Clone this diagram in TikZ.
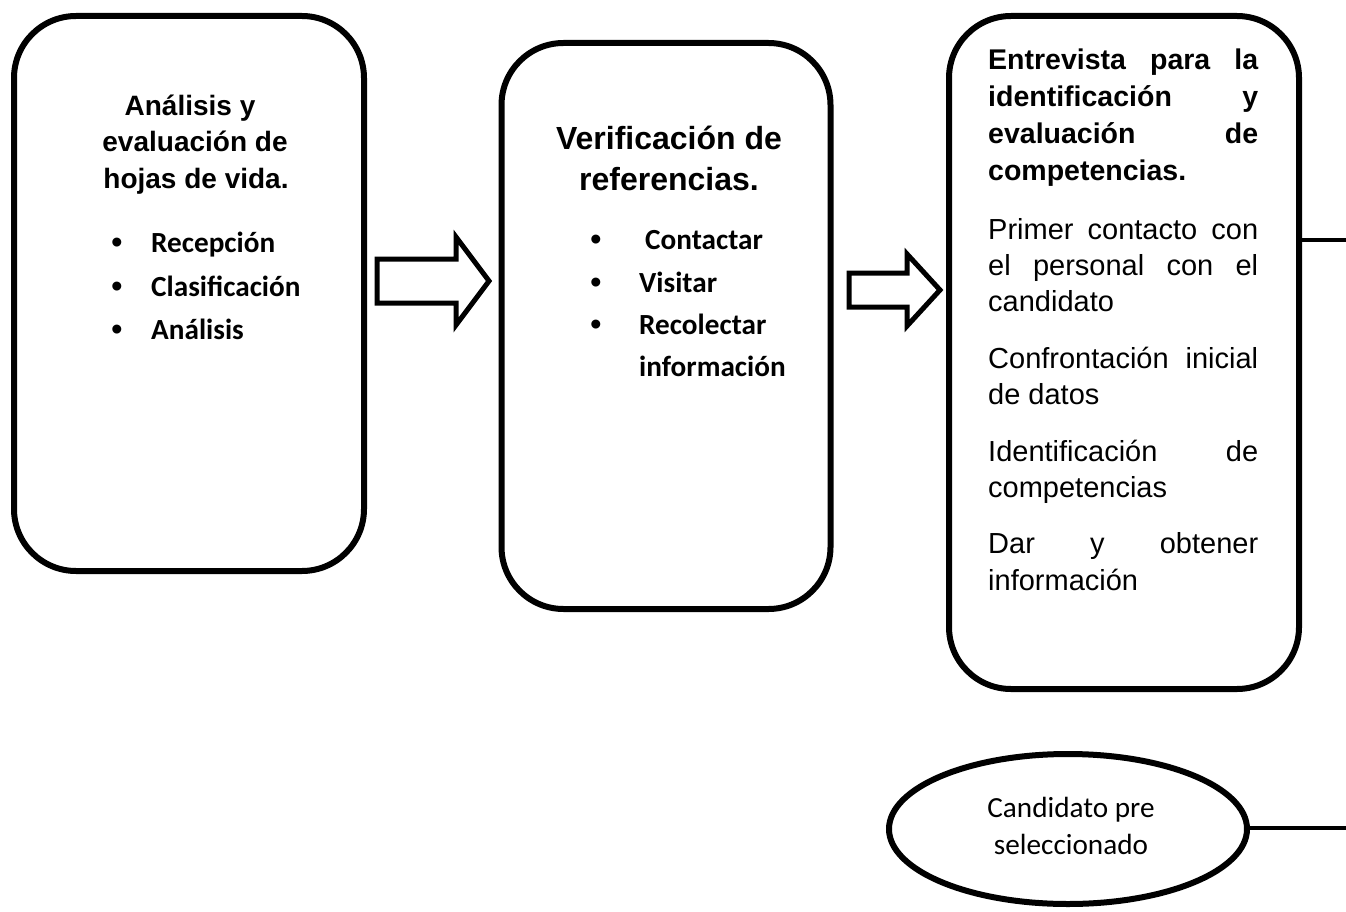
\documentclass[tikz,border=0pt]{standalone}
\usepackage{fontspec}
\setmainfont{Liberation Sans}
\newfontfamily\arialf{Liberation Sans}
\newfontfamily\calibrif{Carlito}
\usetikzlibrary{shapes.geometric}
\begin{document}
\begin{tikzpicture}[x=1pt,y=-1pt,
  roundbox/.style={draw, line width=6pt, rounded corners=62pt, inner sep=0pt},
  arrowshape/.style={draw, line width=5pt, line join=miter, fill=white},
  conn/.style={draw, line width=4pt},
  ttl/.style={inner sep=0pt, anchor=base, font=\arialf\bfseries\fontsize{28}{36}\selectfont},
  ttlb/.style={inner sep=0pt, anchor=base, font=\arialf\bfseries\fontsize{32}{40}\selectfont},
  bul/.style={inner sep=0pt, anchor=base west, font=\calibrif\bfseries\fontsize{29.2}{36}\selectfont},
  dot/.style={inner sep=0pt, anchor=base, font=\arialf\fontsize{33}{36}\selectfont},
  jt/.style={inner sep=0pt, anchor=base west, font=\arialf\bfseries\fontsize{28.5}{36}\selectfont},
  jb/.style={inner sep=0pt, anchor=base west, font=\arialf\fontsize{29}{36}\selectfont},
  elltxt/.style={inner sep=0pt, anchor=base, font=\calibrif\fontsize{29.2}{36}\selectfont}
]
\useasboundingbox (0,0) rectangle (1346,912);

% boxes
\node[roundbox, minimum width=350pt, minimum height=555pt] (b1) at (189,293.5) {};
\node[roundbox, minimum width=329pt, minimum height=566pt] (b2) at (666,326) {};
\node[roundbox, minimum width=350pt, minimum height=673pt] (b3) at (1124,352.5) {};

% box 1 text
\node[ttl] (b1t1) at (190,116) {Análisis y};
\node[ttl] (b1t2) at (195,152) {evaluación de};
\node[ttl] (b1t3) at (196,189) {hojas de vida.};
\node[dot] (b1d1) at (117,253) {•};
\node[dot] (b1d2) at (117,297) {•};
\node[dot] (b1d3) at (117,340) {•};
\node[bul] (b1i1) at (151,252) {Recepción};
\node[bul] (b1i2) at (151,296) {Clasificación};
\node[bul] (b1i3) at (151,339) {Análisis};

% box 2 text
\node[ttlb] (b2t1) at (669,150) {Verificación de};
\node[ttlb] (b2t2) at (669,191) {referencias.};
\node[dot] (b2d1) at (596,250) {•};
\node[dot] (b2d2) at (596,293) {•};
\node[dot] (b2d3) at (596,335) {•};
\node[bul] (b2i1) at (645,249) {Contactar};
\node[bul] (b2i2) at (639,292) {Visitar};
\node[bul] (b2i3) at (639,334) {Recolectar};
\node[bul] (b2i4) at (639,376) {información};

% box 3 text
\node[jt] (b3t1) at (988,70) {\hbox to 270pt{Entrevista\hfill para\hfill la}};
\node[jt] (b3t2) at (988,107) {\hbox to 270pt{identificación\hfill y}};
\node[jt] (b3t3) at (988,144) {\hbox to 270pt{evaluación\hfill de}};
\node[jt] (b3t4) at (988,181) {competencias.};
\node[jb] (b3l1) at (988,239) {\hbox to 270pt{Primer\hfill contacto\hfill con}};
\node[jb] (b3l2) at (988,275) {\hbox to 270pt{el\hfill personal\hfill con\hfill el}};
\node[jb] (b3l3) at (988,311) {candidato};
\node[jb] (b3l4) at (988,368) {\hbox to 270pt{Confrontación\hfill inicial}};
\node[jb] (b3l5) at (988,404) {de datos};
\node[jb] (b3l6) at (988,461) {\hbox to 270pt{Identificación\hfill de}};
\node[jb] (b3l7) at (988,497) {competencias};
\node[jb] (b3l8) at (988,553) {\hbox to 270pt{Dar\hfill y\hfill obtener}};
\node[jb] (b3l9) at (988,590) {información};

% block arrows
\draw[arrowshape] (377,259) -- (456,259) -- (456,237) -- (489,281) -- (456,325) -- (456,303) -- (377,303) -- cycle;
\draw[arrowshape] (849,273) -- (907,273) -- (907,254) -- (940,290) -- (907,326) -- (907,307) -- (849,307) -- cycle;

% ellipse
\node[draw, ellipse, line width=6pt, minimum width=358pt, minimum height=150pt, inner sep=0pt] (el) at (1068,829) {};
\node[elltxt] (e1) at (1071,817) {Candidato pre};
\node[elltxt] (e2) at (1071,854) {seleccionado};

% connector
\coordinate (c1) at (1352,240);
\coordinate (c2) at (1352,828);
\draw[conn] (b3.east |- c1) -- (c1) -- (c2) -- (el.east |- c2);
\end{tikzpicture}
\end{document}
